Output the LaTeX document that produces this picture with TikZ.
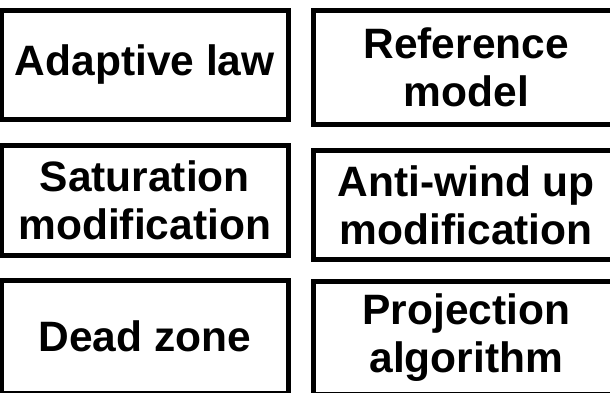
\documentclass[tikz,border=0pt]{standalone}
\usepackage{fontspec}
\setmainfont{Liberation Sans}
\tikzset{
  block/.style={draw, line width=5pt, rectangle, align=center,
    font=\fontsize{42.5}{48}\selectfont\bfseries, inner sep=0pt}
}
\begin{document}
\begin{tikzpicture}[x=1pt, y=-1pt]
  \useasboundingbox (0,0) rectangle (610,392);
  \clip (0,0) rectangle (610,392);

  % Left column
  \node[block, minimum width=286.5pt, minimum height=109pt] (adaptive) at (144.75, 64.5) {Adaptive law};
  \node[block, minimum width=286.5pt, minimum height=110.5pt] (saturation) at (144.75, 200.25) {Saturation\\modification};
  \node[block, minimum width=286.5pt, minimum height=112.5pt] (deadzone) at (144.75, 336.75) {Dead zone};

  % Right column
  \node[block, minimum width=305.5pt, minimum height=114pt] (reference) at (466.25, 67.5) {Reference\\model};
  \node[block, minimum width=305.5pt, minimum height=109pt] (antiwindup) at (466.25, 205) {Anti-wind up\\modification};
  \node[block, minimum width=305.5pt, minimum height=113pt] (projection) at (466.25, 338) {Projection\\algorithm};
\end{tikzpicture}
\end{document}
